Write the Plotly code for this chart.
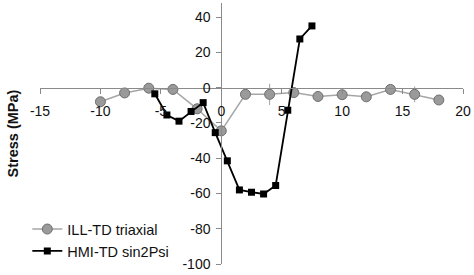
import plotly.graph_objects as go

ill_x = [-10, -8, -6, -4, -2, 0, 2, 4, 6, 8, 10, 12, 14, 16, 18]
ill_y = [-8, -3, -0.3, -1, -12, -24.5, -3.8, -3.8, -2.8, -5, -4, -5.2, -1, -3.8, -7]
ill_err = [0, 0, 0, 3, 3, 0, 0, 6, 3, 0, 0, 0, 0, 4.5, 0]

hmi_x = [-5.5, -4.5, -3.5, -2.5, -1.5, -0.5, 0.5, 1.5, 2.5, 3.5, 4.5, 5.5, 6.5, 7.5]
hmi_y = [-3.5, -15.5, -19, -13.5, -8.5, -25.5, -41.5, -58, -59.3, -60.3, -55.5, -12.8, 27.6, 35]

x_ticks = [-15, -10, -5, 0, 5, 10, 15, 20]
y_ticks = [-100, -80, -60, -40, -20, 0, 20, 40]

fnt = "Liberation Sans, Arial, sans-serif"

fig = go.Figure()
fig.add_trace(go.Scatter(
    x=ill_x, y=ill_y, mode="lines+markers", name="ILL-TD triaxial",
    line=dict(color="#a6a6a6", width=1.5),
    marker=dict(symbol="circle", size=10, color="#9a9a9a", line=dict(color="#6e6e6e", width=1)),
    error_y=dict(type="data", array=ill_err, color="#a0a0a0", thickness=1, width=0),
))
fig.add_trace(go.Scatter(
    x=hmi_x, y=hmi_y, mode="lines+markers", name="HMI-TD sin2Psi",
    line=dict(color="#000000", width=1.8),
    marker=dict(symbol="square", size=7, color="#000000"),
))

x0, x1 = -15, 20
y0, y1 = -100, 48

fig.update_layout(
    width=474, height=275,
    margin=dict(l=40, r=9, t=3, b=9),
    paper_bgcolor="white", plot_bgcolor="white",
    font=dict(family=fnt, size=13, color="#111"),
    showlegend=True,
    legend=dict(x=-0.03, y=0.195, xanchor="left", yanchor="top",
                font=dict(size=14.5, color="#111"), bgcolor="rgba(0,0,0,0)",
                itemwidth=30, tracegroupgap=0),
    xaxis=dict(range=[x0, x1], tickvals=x_ticks, ticktext=[str(v) for v in x_ticks],
               showgrid=False, zeroline=False, showline=True, linecolor="#8a8a8a", linewidth=1,
               ticks="outside", ticklen=5, tickcolor="#8a8a8a",
               anchor="free", position=(0 - y0) / (y1 - y0),
               ticklabelstandoff=6, tickfont=dict(size=14)),
    yaxis=dict(range=[y0, y1], tickvals=y_ticks, ticktext=[str(v) for v in y_ticks],
               showgrid=False, zeroline=False, showline=True, linecolor="#8a8a8a", linewidth=1,
               ticks="outside", ticklen=5, tickcolor="#8a8a8a",
               anchor="free", position=(0 - x0) / (x1 - x0),
               ticklabelstandoff=3, tickfont=dict(size=14)),
    annotations=[dict(text="<b>Stress (MPa)</b>", xref="paper", yref="paper",
                      x=-0.064, y=0.5, xanchor="center", yanchor="middle",
                      textangle=-90, showarrow=False, font=dict(size=14.5, color="#111"))],
)

fig.write_html("out.html")
